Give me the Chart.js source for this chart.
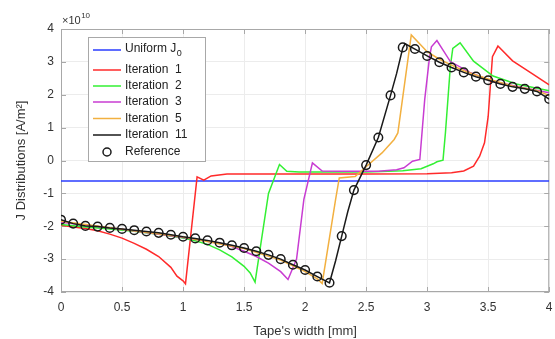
<!DOCTYPE html>
<html>
<head>
<meta charset="utf-8">
<script src="https://cdn.jsdelivr.net/npm/chart.js@4"></script>
<style>
  html, body { margin: 0; padding: 0; background: #fff; }
</style>
</head>
<body>
<canvas id="myChart" width="555" height="339"></canvas>
<script>
// J values are in units of 1e10 A/m^2, width in mm
const xTicks = [0, 0.5, 1, 1.5, 2, 2.5, 3, 3.5, 4];
const yTicks = [-4, -3, -2, -1, 0, 1, 2, 3, 4];

const uniformX = [0, 4];
const uniformY = [-0.62, -0.62];

const it1X = [0, 0.1, 0.2, 0.3, 0.4, 0.5, 0.6, 0.7, 0.8, 0.9, 0.95, 1.0, 1.02, 1.115, 1.17, 1.23, 1.36, 1.6, 2.0, 2.5, 3.0, 3.2, 3.3, 3.38, 3.43, 3.47, 3.5, 3.535, 3.58, 3.7, 3.86, 4.0];
const it1Y = [-1.97, -2.02, -2.07, -2.14, -2.24, -2.36, -2.52, -2.70, -2.92, -3.25, -3.52, -3.66, -3.75, -0.50, -0.60, -0.47, -0.41, -0.41, -0.41, -0.41, -0.40, -0.37, -0.32, -0.17, 0.13, 0.54, 1.34, 3.16, 3.48, 3.03, 2.64, 2.30];

const it2X = [0, 0.2, 0.4, 0.6, 0.8, 1.0, 1.1, 1.2, 1.3, 1.4, 1.5, 1.55, 1.59, 1.7, 1.79, 1.85, 1.95, 2.5, 2.8, 2.95, 3.05, 3.08, 3.13, 3.15, 3.19, 3.21, 3.27, 3.38, 3.54, 3.73, 4.0];
const it2Y = [-1.95, -2.02, -2.08, -2.15, -2.24, -2.36, -2.44, -2.55, -2.72, -2.93, -3.22, -3.42, -3.70, -1.00, -0.12, -0.33, -0.35, -0.35, -0.31, -0.25, -0.10, -0.04, 0.01, 0.85, 2.86, 3.41, 3.58, 3.02, 2.57, 2.33, 2.12];

const it3X = [0, 0.5, 1.0, 1.2, 1.3, 1.4, 1.5, 1.6, 1.7, 1.8, 1.86, 1.93, 1.99, 2.06, 2.14, 2.3, 2.6, 2.75, 2.81, 2.88, 2.94, 2.98, 3.02, 3.035, 3.08, 3.19, 3.35, 3.54, 3.81, 4.0];
const it3Y = [-1.88, -2.09, -2.34, -2.46, -2.52, -2.62, -2.76, -2.92, -3.12, -3.38, -3.62, -3.00, -1.18, -0.07, -0.32, -0.33, -0.33, -0.28, -0.22, -0.02, 0.03, 1.85, 3.16, 3.46, 3.65, 3.01, 2.68, 2.40, 2.20, 2.06];

const it5X = [0, 0.5, 1.0, 1.5, 1.8, 1.9, 2.0, 2.1, 2.14, 2.25, 2.28, 2.41, 2.49, 2.63, 2.73, 2.76, 2.87, 3.0, 3.1, 3.2, 3.3, 3.4, 3.5, 3.6, 3.7, 3.8, 3.9, 4.0];
const it5Y = [-1.85, -2.09, -2.33, -2.68, -3.03, -3.20, -3.38, -3.60, -3.74, -1.18, -0.53, -0.49, -0.22, 0.23, 0.64, 0.84, 3.82, 3.31, 3.08, 2.90, 2.73, 2.60, 2.48, 2.37, 2.27, 2.20, 2.12, 1.98];

const it11X = [0, 0.1, 0.2, 0.3, 0.4, 0.5, 0.6, 0.7, 0.8, 0.9, 1.0, 1.1, 1.2, 1.3, 1.4, 1.5, 1.6, 1.7, 1.8, 1.9, 2.0, 2.1, 2.2, 2.25, 2.3, 2.35, 2.4, 2.5, 2.6, 2.7, 2.75, 2.8, 2.82, 2.9, 3.0, 3.1, 3.2, 3.3, 3.4, 3.5, 3.6, 3.7, 3.8, 3.9, 4.0];
const it11Y = [-1.80, -1.92, -1.99, -2.01, -2.05, -2.08, -2.12, -2.16, -2.20, -2.26, -2.32, -2.37, -2.43, -2.50, -2.58, -2.66, -2.76, -2.87, -3.00, -3.17, -3.33, -3.53, -3.72, -3.05, -2.30, -1.55, -0.90, -0.14, 0.70, 1.98, 2.65, 3.42, 3.55, 3.39, 3.18, 2.99, 2.83, 2.68, 2.55, 2.44, 2.33, 2.24, 2.18, 2.10, 1.87];

const refX = [0, 0.1, 0.2, 0.3, 0.4, 0.5, 0.6, 0.7, 0.8, 0.9, 1.0, 1.1, 1.2, 1.3, 1.4, 1.5, 1.6, 1.7, 1.8, 1.9, 2.0, 2.1, 2.2, 2.3, 2.4, 2.5, 2.6, 2.7, 2.8, 2.9, 3.0, 3.1, 3.2, 3.3, 3.4, 3.5, 3.6, 3.7, 3.8, 3.9, 4.0];
const refY = [-1.80, -1.92, -1.99, -2.01, -2.05, -2.08, -2.12, -2.16, -2.20, -2.26, -2.32, -2.37, -2.43, -2.50, -2.58, -2.66, -2.76, -2.87, -3.00, -3.17, -3.33, -3.53, -3.72, -2.30, -0.90, -0.14, 0.70, 1.98, 3.44, 3.39, 3.18, 2.99, 2.83, 2.68, 2.55, 2.44, 2.33, 2.24, 2.18, 2.10, 1.87];

const pts = (xs, ys) => xs.map((v, i) => ({x: v, y: ys[i]}));

const FONT = "'Liberation Sans', Arial, sans-serif";
const TXT = '#333333';

function line(label, xs, ys, color, order) {
  return {
    label: label,
    data: pts(xs, ys),
    showLine: true,
    borderColor: color,
    backgroundColor: color,
    borderWidth: 1.5,
    pointRadius: 0,
    tension: 0,
    order: order
  };
}

// box, grid-edge ticks (inside, matlab style)
const frame = {
  id: 'frame',
  beforeDatasetsDraw(chart) {
    const {ctx, chartArea: a, scales: {x, y}} = chart;
    ctx.save();
    ctx.strokeStyle = '#a8a8a8';
    ctx.lineWidth = 1;
    ctx.strokeRect(a.left + 0.5, a.top + 0.5, a.right - a.left - 1, a.bottom - a.top - 1);
    ctx.beginPath();
    xTicks.forEach(v => {
      const px = Math.round(x.getPixelForValue(v)) + 0.5;
      ctx.moveTo(px, a.bottom); ctx.lineTo(px, a.bottom - 5);
      ctx.moveTo(px, a.top); ctx.lineTo(px, a.top + 5);
    });
    yTicks.forEach(v => {
      const py = Math.round(y.getPixelForValue(v)) + 0.5;
      ctx.moveTo(a.left, py); ctx.lineTo(a.left + 5, py);
      ctx.moveTo(a.right, py); ctx.lineTo(a.right - 5, py);
    });
    ctx.stroke();
    ctx.restore();
  },
  afterDraw(chart) {
    const {ctx, chartArea: a} = chart;
    ctx.save();
    ctx.fillStyle = TXT;
    ctx.textBaseline = 'alphabetic';
    ctx.font = '11px ' + FONT;
    ctx.fillText('×10', a.left + 1, 24);
    const w = ctx.measureText('×10').width;
    ctx.font = '8px ' + FONT;
    ctx.fillText('10', a.left + 1 + w + 0.5, 18);
    ctx.restore();
  }
};

const boxLegend = {
  id: 'boxLegend',
  afterDatasetsDraw(chart) {
    const {ctx} = chart;
    const rows = [50, 70, 86, 102, 118.5, 135, 152];
    ctx.save();
    ctx.fillStyle = '#ffffff';
    ctx.fillRect(88, 37, 118, 125);
    ctx.strokeStyle = '#a8a8a8';
    ctx.lineWidth = 1;
    ctx.strokeRect(88.5, 37.5, 117, 124);
    chart.data.datasets.forEach((ds, i) => {
      const yy = rows[i];
      if (ds.showLine) {
        ctx.strokeStyle = ds.borderColor;
        ctx.lineWidth = 1.5;
        ctx.beginPath();
        ctx.moveTo(93, yy); ctx.lineTo(121, yy);
        ctx.stroke();
      } else {
        ctx.strokeStyle = ds.borderColor;
        ctx.lineWidth = 1.5;
        ctx.beginPath();
        ctx.arc(107, yy, 4, 0, Math.PI * 2);
        ctx.stroke();
      }
      ctx.fillStyle = '#222';
      ctx.textBaseline = 'middle';
      ctx.font = '12px ' + FONT;
      const sub = ds.label.indexOf('₀');
      if (sub >= 0) {
        const base = ds.label.slice(0, sub);
        ctx.fillText(base, 125, yy - 1);
        const w = ctx.measureText(base).width;
        ctx.font = '9px ' + FONT;
        ctx.fillText('0', 125 + w + 0.5, yy + 4);
      } else {
        ctx.fillText(ds.label, 125, yy);
      }
    });
    ctx.restore();
  }
};

new Chart(document.getElementById('myChart'), {
  type: 'scatter',
  data: {
    datasets: [
      line('Uniform J₀', uniformX, uniformY, '#2a3cff', 7),
      line('Iteration  1', it1X, it1Y, '#ff2a2a', 6),
      line('Iteration  2', it2X, it2Y, '#33f033', 5),
      line('Iteration  3', it3X, it3Y, '#c83cd2', 4),
      line('Iteration  5', it5X, it5Y, '#f2b040', 3),
      line('Iteration  11', it11X, it11Y, '#1a1a1a', 2),
      {
        label: 'Reference',
        data: pts(refX, refY),
        showLine: false,
        borderColor: '#1a1a1a',
        backgroundColor: 'rgba(0,0,0,0)',
        pointRadius: 4.3,
        pointBorderWidth: 1.5,
        order: 1
      }
    ]
  },
  options: {
    responsive: false,
    animation: false,
    events: [],
    layout: { padding: { top: 29, right: 1, left: 0, bottom: 0 } },
    plugins: { legend: { display: false }, tooltip: { enabled: false } },
    scales: {
      x: {
        type: 'linear',
        min: 0, max: 4,
        afterBuildTicks: s => { s.ticks = xTicks.map(v => ({value: v})); },
        afterFit: s => { s.height = 47; s.paddingLeft = 0; s.paddingRight = 0; },
        grid: { color: '#ececec', drawTicks: false },
        border: { display: false },
        ticks: { padding: 8, color: TXT, font: { family: FONT, size: 12 }, autoSkip: false, maxRotation: 0, callback: v => String(v) },
        title: { display: true, text: "Tape's width [mm]", color: TXT, font: { family: FONT, size: 13 }, padding: { top: 0, bottom: 0 } }
      },
      y: {
        type: 'linear',
        min: -4, max: 4,
        afterBuildTicks: s => { s.ticks = yTicks.map(v => ({value: v})); },
        afterFit: s => { s.width = 61; s.paddingTop = 0; s.paddingBottom = 0; },
        grid: { color: '#ececec', drawTicks: false },
        border: { display: false },
        ticks: { padding: 7, color: TXT, font: { family: FONT, size: 12 }, callback: v => String(v) },
        title: { display: true, text: 'J Distributions [A/m²]', color: TXT, font: { family: FONT, size: 13 }, padding: { top: 14, bottom: 0 } }
      }
    }
  },
  plugins: [frame, boxLegend]
});
</script>
</body>
</html>
